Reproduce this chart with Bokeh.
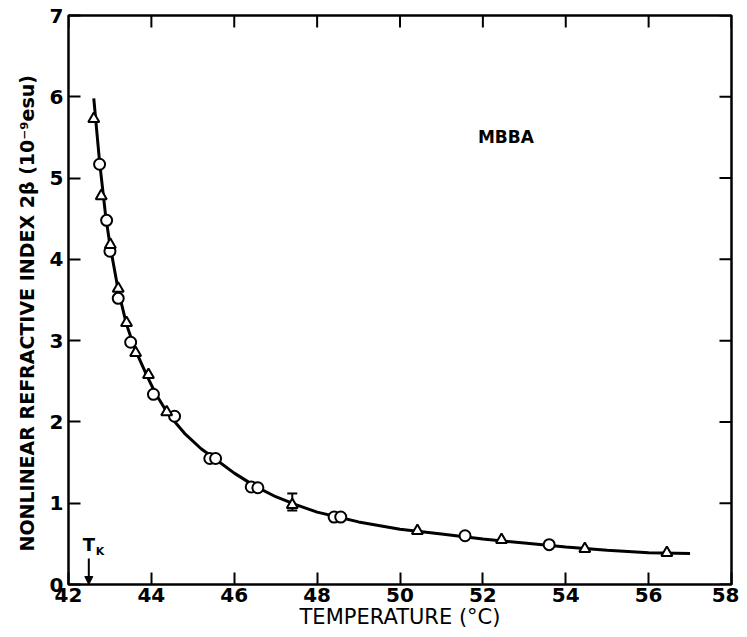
from bokeh.plotting import figure
from bokeh.models import (LinearAxis, FixedTicker, Label, Arrow, NormalHead,
                          Whisker, ColumnDataSource, TeeHead, Range1d)
from bokeh.embed import file_html
from bokeh.resources import INLINE

# ---- data ----
circle_x = [42.75, 42.92, 43.00, 43.20, 43.50, 44.05, 44.56, 45.41, 45.55,
            46.41, 46.57, 48.41, 48.57, 51.57, 53.60]
circle_y = [5.17, 4.48, 4.10, 3.52, 2.98, 2.34, 2.07, 1.55, 1.55,
            1.20, 1.19, 0.83, 0.83, 0.60, 0.49]

tri_x = [42.61, 42.79, 43.01, 43.20, 43.40, 43.62, 43.93, 44.37, 47.40,
         50.42, 52.45, 54.46, 56.44]
tri_y = [5.73, 4.78, 4.18, 3.64, 3.22, 2.85, 2.58, 2.12, 0.98,
         0.66, 0.55, 0.44, 0.39]

err_x = [47.40]
err_lo = [0.91]
err_hi = [1.12]

curve_x = [42.61, 42.75, 42.90, 43.00, 43.20, 43.40, 43.60, 43.90, 44.10,
           44.40, 44.80, 45.20, 45.50, 46.00, 46.50, 47.00, 47.50, 48.00,
           48.50, 49.00, 50.00, 51.00, 52.00, 53.00, 54.00, 55.00, 56.00,
           57.00]
curve_y = [5.98, 5.20, 4.52, 4.18, 3.62, 3.20, 2.90, 2.56, 2.35,
           2.10, 1.86, 1.67, 1.56, 1.37, 1.21, 1.08, 0.98, 0.89,
           0.83, 0.77, 0.68, 0.62, 0.56, 0.51, 0.46, 0.42, 0.39,
           0.38]

x_ticks = [42, 44, 46, 48, 50, 52, 54, 56, 58]
y_ticks = [0, 1, 2, 3, 4, 5, 6, 7]

tk_x = 42.49
tk_top = 0.32
tk_bottom = 0.0

X_MIN, X_MAX = 42, 58
Y_MIN, Y_MAX = 0, 7

FONT = "DejaVu Sans"

p = figure(width=739, height=633, output_backend="svg", toolbar_location=None,
           x_range=Range1d(X_MIN, X_MAX), y_range=Range1d(Y_MIN, Y_MAX),
           min_border_left=68, min_border_right=8, min_border_top=15,
           min_border_bottom=49, x_axis_location=None, y_axis_location=None)
p.background_fill_color = "white"
p.border_fill_color = "white"
p.grid.visible = False
p.outline_line_color = "black"
p.outline_line_width = 2.5


def style(ax, ticks):
    ax.ticker = FixedTicker(ticks=ticks)
    ax.axis_line_color = None
    ax.major_tick_in = 12
    ax.major_tick_out = 0
    ax.major_tick_line_color = "black"
    ax.major_tick_line_width = 2
    ax.minor_tick_line_color = None
    ax.major_label_text_font = FONT
    ax.major_label_text_font_style = "bold"
    ax.major_label_text_font_size = "20px"
    ax.major_label_text_color = "black"


xb = LinearAxis()
style(xb, x_ticks)
xb.major_label_standoff = 3
xb.axis_label = "TEMPERATURE (°C)"
xb.axis_label_text_font = FONT
xb.axis_label_text_font_style = "normal"
xb.axis_label_text_font_size = "21px"
xb.axis_label_standoff = 0
xb.axis_label_text_color = "black"
p.add_layout(xb, "below")

yl = LinearAxis()
style(yl, y_ticks)
yl.major_label_standoff = 5
yl.axis_label = "NONLINEAR  REFRACTIVE  INDEX  2β  (10⁻⁹esu)"
yl.axis_label_text_font = FONT
yl.axis_label_text_font_style = "bold"
yl.axis_label_text_font_size = "19px"
yl.axis_label_standoff = 9
yl.axis_label_text_color = "black"
p.add_layout(yl, "left")

# inward ticks on the top and right edges of the frame, at the tick values
tick_len_y = 12 / 81.3
tick_len_x = 12 / 41.4
p.segment(x0=x_ticks, y0=[Y_MAX] * len(x_ticks), x1=x_ticks,
          y1=[Y_MAX - tick_len_y] * len(x_ticks), line_color="black", line_width=2)
p.segment(x0=[X_MAX] * len(y_ticks), y0=y_ticks,
          x1=[X_MAX - tick_len_x] * len(y_ticks), y1=y_ticks,
          line_color="black", line_width=2)

# curve
p.line(curve_x, curve_y, line_color="black", line_width=3)

# error bar
src = ColumnDataSource(dict(x=err_x, lo=err_lo, hi=err_hi))
p.add_layout(Whisker(base="x", lower="lo", upper="hi", source=src,
                     line_color="black", line_width=2,
                     upper_head=TeeHead(size=10, line_width=2, line_color="black"),
                     lower_head=TeeHead(size=10, line_width=2, line_color="black")))

# markers
p.scatter(circle_x, circle_y, marker="circle", size=11, fill_color="white",
          line_color="black", line_width=2)
p.scatter(tri_x, tri_y, marker="triangle", size=11, fill_color="white",
          line_color="black", line_width=2)

# annotations
p.add_layout(Label(x=51.88, y=5.5, text="MBBA", text_font=FONT,
                   text_font_style="bold", text_font_size="17px",
                   text_baseline="middle", text_align="left", text_color="black"))

p.add_layout(Arrow(x_start=tk_x, y_start=tk_top, x_end=tk_x, y_end=tk_bottom,
                   line_color="black", line_width=2,
                   end=NormalHead(size=8, fill_color="black", line_color="black")))
p.add_layout(Label(x=tk_x, y=0.36, text="T", text_font=FONT,
                   text_font_style="bold", text_font_size="18px",
                   text_align="center", text_baseline="bottom", text_color="black"))
p.add_layout(Label(x=tk_x, y=0.33, x_offset=7, text="K", text_font=FONT,
                   text_font_style="bold", text_font_size="11px",
                   text_align="left", text_baseline="bottom", text_color="black"))

open("out.html", "w").write(file_html(p, INLINE))
